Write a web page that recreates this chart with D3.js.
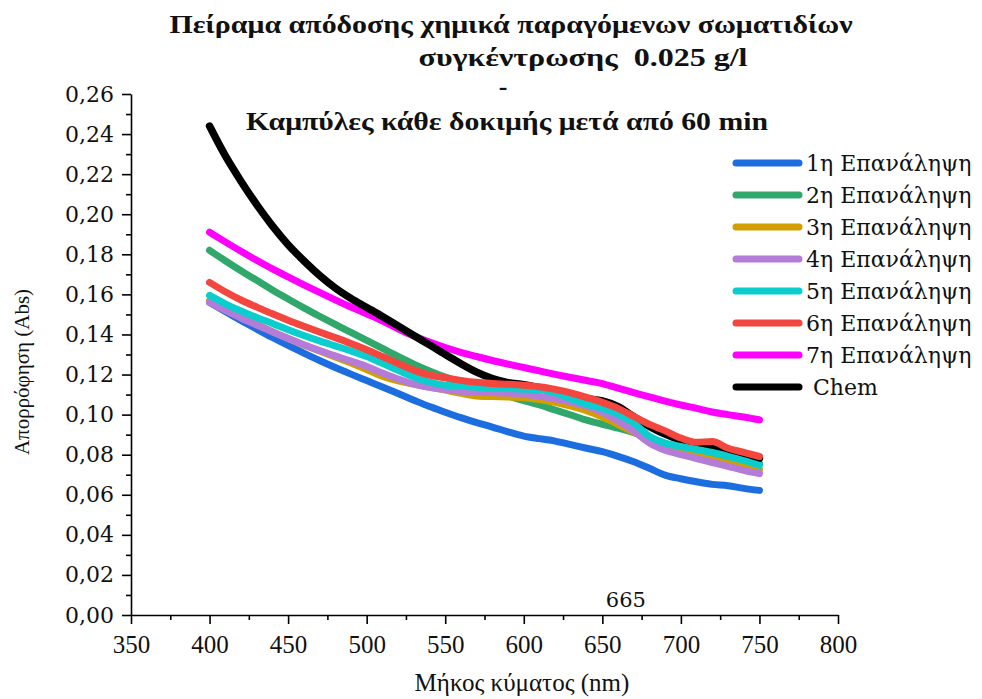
<!DOCTYPE html>
<html>
<head>
<meta charset="utf-8">
<script src="https://cdn.jsdelivr.net/npm/d3@7"></script>
<style>
  html, body { margin: 0; padding: 0; background: #fff; }
  svg { display: block; }
</style>
</head>
<body>
<svg id="chart" width="982" height="699"></svg>
<script>
// Wavelength grid (nm)
const wavelengths = [400, 410, 420, 430, 440, 450, 460, 470, 480, 490,
  500, 510, 520, 530, 540, 550, 560, 570, 580, 590,
  600, 610, 620, 630, 640, 650, 660, 670, 680, 690,
  700, 710, 720, 730, 740, 750];

// Absorbance per run
const run1 = [0.156, 0.1515, 0.147, 0.1427, 0.1385, 0.1345, 0.1307, 0.127, 0.1235, 0.1202,
  0.117, 0.1138, 0.1105, 0.1072, 0.104, 0.1012, 0.0985, 0.096, 0.0938, 0.0914,
  0.0893, 0.088, 0.0868, 0.085, 0.0832, 0.0815, 0.0792, 0.0765, 0.0732, 0.0698,
  0.068, 0.0665, 0.0652, 0.0645, 0.0632, 0.0622];
const run2 = [0.182, 0.1768, 0.1718, 0.167, 0.1622, 0.1577, 0.1533, 0.1491, 0.145, 0.141,
  0.137, 0.133, 0.129, 0.1252, 0.1218, 0.1187, 0.116, 0.1138, 0.1115, 0.1093,
  0.107, 0.1048, 0.1023, 0.0998, 0.0972, 0.0952, 0.0932, 0.091, 0.0882, 0.0853,
  0.0832, 0.0812, 0.0797, 0.0782, 0.0768, 0.0755];
const run3 = [0.157, 0.1528, 0.1488, 0.145, 0.1414, 0.138, 0.1348, 0.1318, 0.1288, 0.1258,
  0.1225, 0.1192, 0.1168, 0.1152, 0.1137, 0.1122, 0.1106, 0.1093, 0.109, 0.1088,
  0.1084, 0.1075, 0.1061, 0.1042, 0.1019, 0.0988, 0.0952, 0.0912, 0.0872, 0.0838,
  0.0812, 0.0792, 0.0775, 0.0757, 0.0741, 0.0726];
const run4 = [0.156, 0.152, 0.1482, 0.1447, 0.1413, 0.138, 0.1349, 0.132, 0.1293, 0.1267,
  0.124, 0.1208, 0.1178, 0.1152, 0.1136, 0.1125, 0.1116, 0.1111, 0.111, 0.1108,
  0.1101, 0.1091, 0.1079, 0.1063, 0.1042, 0.1011, 0.0968, 0.0918, 0.0858, 0.0822,
  0.0801, 0.0781, 0.0761, 0.0742, 0.0722, 0.0706];
const run5 = [0.1595, 0.1553, 0.1517, 0.1485, 0.1455, 0.1424, 0.1395, 0.1368, 0.1343, 0.1318,
  0.129, 0.1256, 0.1221, 0.1188, 0.1162, 0.1147, 0.1141, 0.1136, 0.1132, 0.113,
  0.1127, 0.1124, 0.1108, 0.1079, 0.1052, 0.1031, 0.1002, 0.0958, 0.0892, 0.0858,
  0.0841, 0.0826, 0.0811, 0.0792, 0.0771, 0.0747];
const run6 = [0.166, 0.1613, 0.1572, 0.1537, 0.1503, 0.1471, 0.1441, 0.1412, 0.1384, 0.1355,
  0.1324, 0.129, 0.1255, 0.1222, 0.1197, 0.1184, 0.1171, 0.1161, 0.1155, 0.1151,
  0.1146, 0.1139, 0.1126, 0.1109, 0.1086, 0.1061, 0.1031, 0.0991, 0.0951, 0.0919,
  0.0883, 0.0862, 0.0866, 0.0832, 0.0812, 0.0791];
const run7 = [0.191, 0.1862, 0.1815, 0.177, 0.1727, 0.1687, 0.1648, 0.161, 0.1573, 0.1537,
  0.1503, 0.1468, 0.1428, 0.1392, 0.1362, 0.1335, 0.1311, 0.129, 0.127, 0.1252,
  0.1235, 0.1218, 0.1201, 0.1185, 0.117, 0.1155, 0.1132, 0.111, 0.1088, 0.1067,
  0.1048, 0.1031, 0.1013, 0.1, 0.0988, 0.0974];
const chem = [0.244, 0.2292, 0.2165, 0.2048, 0.1942, 0.1848, 0.1768, 0.1695, 0.1632, 0.158,
  0.1535, 0.149, 0.1443, 0.1395, 0.1348, 0.13, 0.1254, 0.1212, 0.118, 0.116,
  0.1149, 0.1133, 0.1114, 0.1094, 0.108, 0.1068, 0.104, 0.099, 0.0941, 0.0903,
  0.0872, 0.0851, 0.0832, 0.0812, 0.0795, 0.0782];

const seriesNames = ["1η Επανάληψη", "2η Επανάληψη", "3η Επανάληψη", "4η Επανάληψη",
  "5η Επανάληψη", "6η Επανάληψη", "7η Επανάληψη", " Chem"];
const seriesValues = [run1, run2, run3, run4, run5, run6, run7, chem];
const seriesColors = ["#1c6ee0", "#31a86b", "#d29e00", "#b57bd9", "#0ccdcd", "#f3463f", "#ff00ff", "#000000"];
// paint order (later = on top)
const drawOrder = [0, 1, 2, 3, 6, 7, 4, 5];

const xTicks = [350, 400, 450, 500, 550, 600, 650, 700, 750, 800];
const yTicks = [0.00, 0.02, 0.04, 0.06, 0.08, 0.10, 0.12, 0.14, 0.16, 0.18, 0.20, 0.22, 0.24, 0.26];

const titleLines = ["Πείραμα απόδοσης χημικά παραγόμενων σωματιδίων",
  "συγκέντρωσης  0.025 g/l", "-", "Καμπύλες κάθε δοκιμής μετά από 60 min"];
const xTitle = "Μήκος κύματος (nm)";
const yTitle = "Απορρόφηση (Abs)";
const markLabel = "665";

const svg = d3.select("#chart");
const plot = { left: 131, right: 838, top: 94, bottom: 615 };

const x = d3.scaleLinear().domain([350, 800]).range([plot.left, plot.right]);
const y = d3.scaleLinear().domain([0, 0.26]).range([plot.bottom, plot.top]);

const serif = "'DejaVu Serif', serif";
const narrowSerif = "'Liberation Serif', 'Times New Roman', serif";
const fmt = v => d3.format(".2f")(v).replace(".", ",");

// Minor ticks
const xMinor = d3.axisBottom(x).tickValues(d3.range(375, 800, 50)).tickSize(5).tickFormat("");
const yMinor = d3.axisLeft(y).tickValues(d3.range(0.01, 0.26, 0.02)).tickSize(5).tickFormat("");
svg.append("g").attr("transform", `translate(0,${plot.bottom})`).call(xMinor)
  .call(g => g.select(".domain").remove())
  .call(g => g.selectAll("line").attr("stroke", "#000").attr("stroke-width", 1.6));
svg.append("g").attr("transform", `translate(${plot.left},0)`).call(yMinor)
  .call(g => g.select(".domain").remove())
  .call(g => g.selectAll("line").attr("stroke", "#000").attr("stroke-width", 1.6));

// Major axes
const xAxis = d3.axisBottom(x).tickValues(xTicks).tickSize(9).tickSizeOuter(0).tickPadding(11);
const yAxis = d3.axisLeft(y).tickValues(yTicks).tickSize(9).tickSizeOuter(0).tickPadding(8).tickFormat(fmt);
svg.append("g").attr("transform", `translate(0,${plot.bottom})`).call(xAxis)
  .call(g => g.select(".domain").attr("stroke", "#000").attr("stroke-width", 1.6))
  .call(g => g.selectAll("line").attr("stroke", "#000").attr("stroke-width", 1.6))
  .call(g => g.selectAll("text").attr("font-family", narrowSerif).attr("font-size", 25).attr("fill", "#111"));
svg.append("g").attr("transform", `translate(${plot.left},0)`).call(yAxis)
  .call(g => g.select(".domain").attr("stroke", "#000").attr("stroke-width", 1.6))
  .call(g => g.selectAll("line").attr("stroke", "#000").attr("stroke-width", 1.6))
  .call(g => g.selectAll("text").attr("font-family", serif).attr("font-size", 22).attr("fill", "#111"));

// Axis titles
svg.append("text")
  .attr("x", 522).attr("y", 691)
  .attr("text-anchor", "middle")
  .attr("font-family", narrowSerif).attr("font-size", 25).attr("fill", "#111")
  .text(xTitle);
svg.append("text")
  .attr("transform", "translate(29,372) rotate(-90)")
  .attr("text-anchor", "middle")
  .attr("font-family", narrowSerif).attr("font-size", 21).attr("fill", "#111")
  .text(yTitle);

// Curves
const line = d3.line()
  .x(d => x(d[0]))
  .y(d => y(d[1]))
  .curve(d3.curveMonotoneX);

drawOrder.forEach(i => {
  svg.append("path")
    .datum(wavelengths.map((w, k) => [w, seriesValues[i][k]]))
    .attr("fill", "none")
    .attr("stroke", seriesColors[i])
    .attr("stroke-width", i === 7 ? 7.5 : 7)
    .attr("stroke-linecap", "round")
    .attr("stroke-linejoin", "round")
    .attr("d", line);
});

// Wavelength annotation
svg.append("text")
  .attr("x", x(665)).attr("y", 607)
  .attr("text-anchor", "middle")
  .attr("font-family", serif).attr("font-size", 21).attr("fill", "#111")
  .text(markLabel);

// Title block
const titleSpec = [
  { x: 511, y: 33, w: 683 },
  { x: 583, y: 66, w: 329 },
  { x: 503, y: 95, w: 0 },
  { x: 507, y: 130, w: 522 }
];
titleLines.forEach((t, i) => {
  const s = titleSpec[i];
  const el = svg.append("text")
    .attr("x", s.x).attr("y", s.y)
    .attr("text-anchor", "middle")
    .attr("font-family", narrowSerif).attr("font-weight", "bold")
    .attr("font-size", 26).attr("fill", "#111")
    .style("white-space", "pre")
    .text(t);
  if (s.w) el.attr("textLength", s.w).attr("lengthAdjust", "spacingAndGlyphs");
});

// Legend
const legend = svg.append("g").attr("transform", "translate(733,163)");
seriesNames.forEach((name, i) => {
  const row = legend.append("g").attr("transform", `translate(0,${i * 32})`);
  row.append("line")
    .attr("x1", 3).attr("x2", 66)
    .attr("stroke", seriesColors[i]).attr("stroke-width", 7)
    .attr("stroke-linecap", "round");
  row.append("text")
    .attr("x", 73).attr("y", 0).attr("dy", "0.35em")
    .attr("font-family", serif).attr("font-size", 22).attr("fill", "#111")
    .style("white-space", "pre")
    .text(name);
});
</script>
</body>
</html>
